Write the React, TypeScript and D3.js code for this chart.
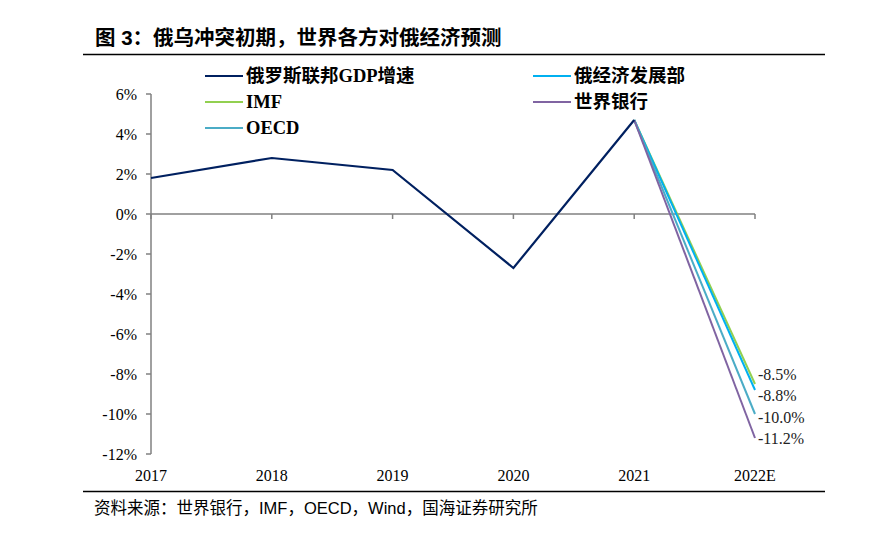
import * as d3 from "d3";

const years = ["2017", "2018", "2019", "2020", "2021", "2022E"];
const yTicks = [6, 4, 2, 0, -2, -4, -6, -8, -10, -12];

const gdpValues = [1.8, 2.8, 2.2, -2.7, 4.7];
const forecastStart = 4.7;

const seriesNames = ["俄罗斯联邦GDP增速", "俄经济发展部", "IMF", "世界银行", "OECD"];
const seriesColors = ["#002060", "#00B0F0", "#92D050", "#8064A2", "#4BACC6"];
const forecastNames = ["IMF", "俄经济发展部", "OECD", "世界银行"];
const forecastValues = [-8.5, -8.8, -10.0, -11.2];

const W = 876;
const H = 546;
const serif = "'Liberation Serif', 'Times New Roman', 'Noto Sans CJK SC', serif";
const cjkBold = "'Liberation Serif', 'Noto Sans CJK SC', serif";
const sans = "'Liberation Sans', 'Noto Sans CJK SC', sans-serif";

export default function App() {
  const x = d3.scalePoint<string>().domain(years).range([151, 755]);
  const y = d3.scaleLinear().domain([-12, 6]).range([454, 94]);

  const line = d3
    .line<[string, number]>()
    .x((d) => x(d[0]) ?? 0)
    .y((d) => y(d[1]));

  const colorOf = (name: string) => seriesColors[seriesNames.indexOf(name)];

  // legend: two columns, filled row-wise
  const legendPos = seriesNames.map((_, i) => ({
    lx: i % 2 === 0 ? 205 : 533,
    ly: 76 + Math.floor(i / 2) * 26,
  }));

  return (
    <svg
      width={W}
      height={H}
      style={{ position: "absolute", left: 0, top: 0, background: "#fff" }}
    >
      <text x={95} y={45} fontFamily={sans} fontWeight="bold" fontSize={20.5} fill="#000">
        图 3：俄乌冲突初期，世界各方对俄经济预测
      </text>
      <line x1={83} x2={825} y1={54.5} y2={54.5} stroke="#000" strokeWidth={1.5} />
      <line x1={83} x2={825} y1={491.5} y2={491.5} stroke="#000" strokeWidth={1.5} />
      <text x={94} y={514} fontFamily={sans} fontSize={16.5} fill="#000">
        资料来源：世界银行，IMF，OECD，Wind，国海证券研究所
      </text>

      {/* y axis */}
      <line x1={151} x2={151} y1={y(6)} y2={y(-12)} stroke="#808080" strokeWidth={1.5} />
      {yTicks.map((t) => (
        <g key={t}>
          <line x1={146} x2={151} y1={y(t)} y2={y(t)} stroke="#808080" strokeWidth={1.5} />
          <text
            x={137}
            y={y(t)}
            dy="0.35em"
            textAnchor="end"
            fontFamily={serif}
            fontSize={16}
            fill="#000"
          >
            {`${t}%`}
          </text>
        </g>
      ))}

      {/* zero line with category ticks */}
      <line x1={151} x2={755} y1={y(0)} y2={y(0)} stroke="#808080" strokeWidth={1.5} />
      {years.map((yr) => (
        <line
          key={yr}
          x1={x(yr)}
          x2={x(yr)}
          y1={y(0)}
          y2={y(0) + 5}
          stroke="#808080"
          strokeWidth={1.5}
        />
      ))}
      {years.map((yr) => (
        <text
          key={yr}
          x={x(yr)}
          y={481}
          textAnchor="middle"
          fontFamily={serif}
          fontSize={16}
          fill="#000"
        >
          {yr}
        </text>
      ))}

      {/* forecast lines, drawn under GDP line */}
      {forecastNames.map((n, i) => (
        <path
          key={n}
          d={
            line([
              ["2021", forecastStart],
              ["2022E", forecastValues[i]],
            ]) ?? ""
          }
          fill="none"
          stroke={colorOf(n)}
          strokeWidth={2}
        />
      ))}
      <path
        d={line(gdpValues.map((v, i) => [years[i], v] as [string, number])) ?? ""}
        fill="none"
        stroke={seriesColors[0]}
        strokeWidth={2.2}
      />

      {/* end labels */}
      {forecastValues.map((v, i) => (
        <text
          key={i}
          x={758}
          y={374 + i * 21.5}
          dy="0.35em"
          fontFamily={serif}
          fontSize={16}
          fill="#222"
        >
          {`${v.toFixed(1)}%`}
        </text>
      ))}

      {/* legend */}
      {seriesNames.map((n, i) => (
        <g key={n}>
          <line
            x1={legendPos[i].lx}
            x2={legendPos[i].lx + 38}
            y1={legendPos[i].ly}
            y2={legendPos[i].ly}
            stroke={seriesColors[i]}
            strokeWidth={2.2}
          />
          <text
            x={legendPos[i].lx + 41}
            y={legendPos[i].ly}
            dy="0.35em"
            fontFamily={cjkBold}
            fontWeight="bold"
            fontSize={18.5}
            fill="#000"
          >
            {n}
          </text>
        </g>
      ))}
    </svg>
  );
}
